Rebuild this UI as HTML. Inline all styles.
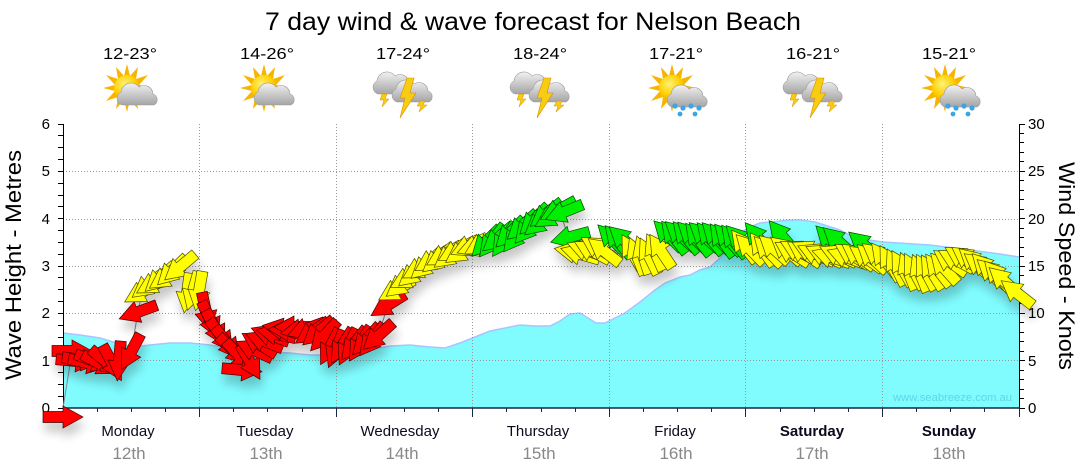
<!DOCTYPE html>
<html><head><meta charset="utf-8"><style>
html,body{margin:0;padding:0;background:#fff;}
svg{display:block;font-family:"Liberation Sans",sans-serif;}
</style></head><body>
<svg width="1080" height="475" viewBox="0 0 1080 475" xmlns="http://www.w3.org/2000/svg">
<defs>
<polygon id="a" points="-20,-5.5 0,-5.5 0,-11 20,0 0,11 0,5.5 -20,5.5"/>
<filter id="sh" x="-5%" y="-30%" width="110%" height="170%">
<feGaussianBlur in="SourceAlpha" stdDeviation="5"/>
<feOffset dx="2" dy="9" result="o"/>
<feComponentTransfer><feFuncA type="linear" slope="0.22"/></feComponentTransfer>
<feMerge><feMergeNode/><feMergeNode in="SourceGraphic"/></feMerge>
</filter>
<linearGradient id="cg" x1="0" y1="0" x2="0" y2="1"><stop offset="0" stop-color="#f2f2f2"/><stop offset="1" stop-color="#a4a4a4"/></linearGradient>
<radialGradient id="sg" cx="0.4" cy="0.35" r="0.7"><stop offset="0" stop-color="#fff27a"/><stop offset="0.6" stop-color="#ffd000"/><stop offset="1" stop-color="#f0a000"/></radialGradient>
<g id="sun">
<polygon fill="#f7b500" points="0,-24 3,-12 11,-21 9,-9 21,-13 12,-3 24,0 12,3 21,13 9,9 11,21 3,12 0,24 -3,12 -11,21 -9,9 -21,13 -12,3 -24,0 -12,-3 -21,-13 -9,-9 -11,-21 -3,-12"/>
<circle r="13" fill="url(#sg)"/>
</g>
<path id="cl" d="M5,25 A7,7 0 0 1 4,12 A10,10 0 0 1 22,7 A9,9 0 0 1 36,14 A6,6 0 0 1 37,25 Z" fill="url(#cg)" stroke="#9c9c9c" stroke-width="0.6"/>
<g id="pc"><use href="#sun" x="-4" y="88"/><use href="#cl" x="-14" y="80"/></g>
<g id="th">
<use href="#cl" x="-31" y="69"/>
<polygon points="-22,94 -17,94 -19,99 -15,99 -22,107 -20,100 -24,100" fill="#f8cc10" stroke="#d89000" stroke-width="0.5"/>
<use href="#cl" x="-12" y="77"/>
<polygon points="16,101 21,101 19,105 23,105 15,112 17,106 13,106" fill="#f8cc10" stroke="#d89000" stroke-width="0.5"/>
<polygon points="3,78 10,78 6,93 12,93 -4,118 1,98 -4,98" fill="#f8cc10" stroke="#d89000" stroke-width="0.6"/>
</g>
<g id="rn"><use href="#sun" x="-5" y="88"/><use href="#cl" x="-10" y="82"/>
<g fill="#3aa6e6"><circle cx="-2" cy="106" r="2.6"/><circle cx="6" cy="108" r="2.6"/><circle cx="14" cy="106" r="2.6"/><circle cx="22" cy="108" r="2.6"/><circle cx="3" cy="114" r="2.4"/><circle cx="18" cy="114" r="2.4"/></g></g>
</defs>

<!-- title -->
<text x="533" y="30" font-size="25" text-anchor="middle" textLength="536" lengthAdjust="spacingAndGlyphs" fill="#000">7 day wind &amp; wave forecast for Nelson Beach</text>

<!-- temps -->
<g font-size="16" text-anchor="middle" fill="#000">
<text x="130" y="59" textLength="54" lengthAdjust="spacingAndGlyphs">12-23°</text>
<text x="267" y="59" textLength="54" lengthAdjust="spacingAndGlyphs">14-26°</text>
<text x="403" y="59" textLength="54" lengthAdjust="spacingAndGlyphs">17-24°</text>
<text x="540" y="59" textLength="54" lengthAdjust="spacingAndGlyphs">18-24°</text>
<text x="676" y="59" textLength="54" lengthAdjust="spacingAndGlyphs">17-21°</text>
<text x="813" y="59" textLength="54" lengthAdjust="spacingAndGlyphs">16-21°</text>
<text x="949" y="59" textLength="54" lengthAdjust="spacingAndGlyphs">15-21°</text>
</g>

<!-- icons -->
<use href="#pc" x="131" y="0"/>
<use href="#pc" x="268" y="0"/>
<use href="#th" x="404" y="0"/>
<use href="#th" x="541" y="0"/>
<use href="#rn" x="677" y="0"/>
<use href="#th" x="814" y="0"/>
<use href="#rn" x="950" y="0"/>

<!-- wave area -->
<polygon fill="#80fcff" points="63,333 80,335 100,338 120,344 135,347 150,345 170,343 190,343 210,345 230,348 250,350 270,352 290,353 310,355 330,355 350,352 370,349 390,346 410,345 430,347 445,348 460,343 475,337 490,331 505,328 520,325 535,326 550,326 560,321 570,314 580,313 588,318 596,323 605,323 615,318 625,313 640,302 655,290 665,283 680,277 690,275 700,270 710,267 720,258 730,245 740,233 750,227 760,223 770,222 790,220 800,220 815,222 840,230 855,238 883,242 930,245 970,250 1000,254 1019,257 1019,408 63,408"/>
<polyline fill="none" stroke="#a8c4ff" stroke-width="1.5" points="63,333 80,335 100,338 120,344 135,347 150,345 170,343 190,343 210,345 230,348 250,350 270,352 290,353 310,355 330,355 350,352 370,349 390,346 410,345 430,347 445,348 460,343 475,337 490,331 505,328 520,325 535,326 550,326 560,321 570,314 580,313 588,318 596,323 605,323 615,318 625,313 640,302 655,290 665,283 680,277 690,275 700,270 710,267 720,258 730,245 740,233 750,227 760,223 770,222 790,220 800,220 815,222 840,230 855,238 883,242 930,245 970,250 1000,254 1019,257"/>

<!-- watermark -->
<text x="893" y="401" font-size="11" fill="#5ad8e6" textLength="119" lengthAdjust="spacingAndGlyphs">www.seabreeze.com.au</text>

<!-- gridlines -->
<g stroke="#999" stroke-width="1" stroke-dasharray="1 2" fill="none">
<path d="M63,360.5H1019M63,313.5H1019M63,266.5H1019M63,219.5H1019M63,171.5H1019"/>
<path d="M199.5,124V408M336.5,124V408M472.5,124V408M609.5,124V408M745.5,124V408M882.5,124V408"/>
</g>

<!-- axes -->
<g stroke="#000" stroke-width="1" fill="none">
<path d="M63.5,124V408M1019.5,124V408"/>
<path d="M58,408.5H63M58,396.5H63M58,384.5H63M58,372.5H63M58,360.5H63M58,349.5H63M58,337.5H63M58,325.5H63M58,313.5H63M58,301.5H63M58,289.5H63M58,277.5H63M58,266.5H63M58,254.5H63M58,242.5H63M58,230.5H63M58,218.5H63M58,206.5H63M58,195.5H63M58,183.5H63M58,171.5H63M58,159.5H63M58,147.5H63M58,135.5H63M58,124.5H63"/>
<path d="M1019,398.5h5M1019,389.5h5M1019,379.5h5M1019,370.5h5M1019,360.5h6M1019,351.5h5M1019,341.5h5M1019,332.5h5M1019,322.5h5M1019,313.5h6M1019,303.5h5M1019,294.5h5M1019,284.5h5M1019,275.5h5M1019,266.5h6M1019,256.5h5M1019,247.5h5M1019,237.5h5M1019,228.5h5M1019,218.5h6M1019,209.5h5M1019,199.5h5M1019,190.5h5M1019,180.5h5M1019,171.5h6M1019,161.5h5M1019,152.5h5M1019,142.5h5M1019,133.5h5M1019,124.5h6M1019,408.5h6"/>
</g>
<g stroke="#13284a" fill="none">
<path d="M63,408H1020" stroke-width="1.6"/>
<path stroke-width="1" d="M63.5,408V417M199.5,408V417M336.5,408V417M472.5,408V417M609.5,408V417M745.5,408V417M882.5,408V417M1019.5,408V417M97.5,408V412M131.5,408V412M165.5,408V412M233.5,408V412M267.5,408V412M302.5,408V412M370.5,408V412M404.5,408V412M438.5,408V412M506.5,408V412M541.5,408V412M575.5,408V412M643.5,408V412M677.5,408V412M711.5,408V412M780.5,408V412M814.5,408V412M848.5,408V412M916.5,408V412M950.5,408V412M984.5,408V412"/>
</g>

<!-- axis labels -->
<g font-size="15" fill="#000" text-anchor="end">
<text x="50" y="129">6</text><text x="50" y="176">5</text><text x="50" y="224">4</text><text x="50" y="271">3</text><text x="50" y="318">2</text><text x="50" y="366">1</text><text x="50" y="413">0</text>
</g>
<g font-size="15" fill="#000">
<text x="1028" y="129">30</text><text x="1028" y="176">25</text><text x="1028" y="224">20</text><text x="1028" y="271">15</text><text x="1028" y="318">10</text><text x="1028" y="366">5</text><text x="1028" y="413">0</text>
</g>
<text transform="translate(21,265) rotate(-90)" font-size="22" text-anchor="middle" textLength="230" lengthAdjust="spacingAndGlyphs" fill="#000">Wave Height - Metres</text>
<text transform="translate(1059,266) rotate(90)" font-size="22" text-anchor="middle" textLength="208" lengthAdjust="spacingAndGlyphs" fill="#000">Wind Speed - Knots</text>

<!-- day labels -->
<g font-size="15" fill="#0a0a1e" text-anchor="middle">
<text x="128" y="436">Monday</text>
<text x="265" y="436">Tuesday</text>
<text x="400" y="436">Wednesday</text>
<text x="538" y="436">Thursday</text>
<text x="675" y="436">Friday</text>
<text x="812" y="436" font-weight="bold">Saturday</text>
<text x="949" y="436" font-weight="bold">Sunday</text>
</g>
<g font-size="17" fill="#888" text-anchor="middle">
<text x="129" y="459">12th</text>
<text x="266" y="459">13th</text>
<text x="402" y="459">14th</text>
<text x="539" y="459">15th</text>
<text x="676" y="459">16th</text>
<text x="812" y="459">17th</text>
<text x="949" y="459">18th</text>
</g>

<!-- wind line -->
<polyline fill="none" stroke="#888" stroke-width="1" points="63,408 72,352 100,363 131,352 138,312 142,292 180,267 193,292 206,312 250,362 282,330 324,335 348,346 378,336 388,305 420,268 476,244 530,222 560,212 568,236 604,250 630,252 700,237 760,248 830,256 880,258 940,270 960,258 1017,293"/>

<!-- wind arrows -->
<g filter="url(#sh)" stroke-width="0.7">
<g fill="#ff0000" stroke="#4a0000">
<use href="#a" transform="translate(63 417)rotate(0)"/>
<use href="#a" transform="translate(72 351)rotate(0)"/>
<use href="#a" transform="translate(76 361)rotate(5)"/>
<use href="#a" transform="translate(82 360)rotate(8)"/>
<use href="#a" transform="translate(88 363)rotate(12)"/>
<use href="#a" transform="translate(94 361)rotate(20)"/>
<use href="#a" transform="translate(100 364)rotate(28)"/>
<use href="#a" transform="translate(106 362)rotate(40)"/>
<use href="#a" transform="translate(112 363)rotate(62)"/>
<use href="#a" transform="translate(119 361)rotate(95)"/>
<use href="#a" transform="translate(131 352)rotate(118)"/>
<use href="#a" transform="translate(138 312)rotate(160)"/>
</g>
<g fill="#ffff00" stroke="#4a4a00">
<use href="#a" transform="translate(142 292)rotate(150)"/>
<use href="#a" transform="translate(148 285)rotate(142)"/>
<use href="#a" transform="translate(154 283)rotate(150)"/>
<use href="#a" transform="translate(160 278)rotate(138)"/>
<use href="#a" transform="translate(166 277)rotate(146)"/>
<use href="#a" transform="translate(172 271)rotate(136)"/>
<use href="#a" transform="translate(180 267)rotate(140)"/>
<use href="#a" transform="translate(187 293)rotate(98)"/>
<use href="#a" transform="translate(193 291)rotate(106)"/>
<use href="#a" transform="translate(199 291)rotate(100)"/>
</g>
<g fill="#ff0000" stroke="#4a0000">
<use href="#a" transform="translate(206 312)rotate(78)"/>
<use href="#a" transform="translate(210 320)rotate(66)"/>
<use href="#a" transform="translate(215 328)rotate(62)"/>
<use href="#a" transform="translate(221 336)rotate(54)"/>
<use href="#a" transform="translate(227 343)rotate(52)"/>
<use href="#a" transform="translate(233 350)rotate(44)"/>
<use href="#a" transform="translate(239 356)rotate(48)"/>
<use href="#a" transform="translate(242 370)rotate(5)"/>
<use href="#a" transform="translate(250 362)rotate(60)"/>
<use href="#a" transform="translate(254 350)rotate(205)"/>
<use href="#a" transform="translate(259 344)rotate(212)"/>
<use href="#a" transform="translate(264 341)rotate(202)"/>
<use href="#a" transform="translate(270 335)rotate(200)"/>
<use href="#a" transform="translate(276 334)rotate(192)"/>
<use href="#a" transform="translate(282 329)rotate(190)"/>
<use href="#a" transform="translate(288 330)rotate(182)"/>
<use href="#a" transform="translate(294 327)rotate(180)"/>
<use href="#a" transform="translate(300 330)rotate(170)"/>
<use href="#a" transform="translate(306 329)rotate(160)"/>
<use href="#a" transform="translate(312 332)rotate(146)"/>
<use href="#a" transform="translate(318 332)rotate(140)"/>
<use href="#a" transform="translate(324 336)rotate(132)"/>
<use href="#a" transform="translate(330 347)rotate(118)"/>
<use href="#a" transform="translate(336 349)rotate(112)"/>
<use href="#a" transform="translate(342 346)rotate(122)"/>
<use href="#a" transform="translate(348 347)rotate(116)"/>
<use href="#a" transform="translate(354 344)rotate(128)"/>
<use href="#a" transform="translate(360 344)rotate(122)"/>
<use href="#a" transform="translate(366 340)rotate(132)"/>
<use href="#a" transform="translate(372 340)rotate(128)"/>
<use href="#a" transform="translate(378 336)rotate(138)"/>
<use href="#a" transform="translate(388 305)rotate(148)"/>
</g>
<g fill="#ffff00" stroke="#4a4a00">
<use href="#a" transform="translate(396 290)rotate(150)"/>
<use href="#a" transform="translate(402 284)rotate(142)"/>
<use href="#a" transform="translate(408 278)rotate(152)"/>
<use href="#a" transform="translate(414 273)rotate(140)"/>
<use href="#a" transform="translate(420 268)rotate(150)"/>
<use href="#a" transform="translate(426 265)rotate(138)"/>
<use href="#a" transform="translate(432 260)rotate(148)"/>
<use href="#a" transform="translate(438 259)rotate(140)"/>
<use href="#a" transform="translate(444 255)rotate(150)"/>
<use href="#a" transform="translate(450 255)rotate(142)"/>
<use href="#a" transform="translate(456 251)rotate(152)"/>
<use href="#a" transform="translate(462 251)rotate(145)"/>
<use href="#a" transform="translate(469 246)rotate(155)"/>
<use href="#a" transform="translate(476 246)rotate(160)"/>
<use href="#a" transform="translate(482 244)rotate(150)"/>
</g>
<g fill="#00ee00" stroke="#004a00">
<use href="#a" transform="translate(486 242)rotate(135)"/>
<use href="#a" transform="translate(492 241)rotate(128)"/>
<use href="#a" transform="translate(498 238)rotate(140)"/>
<use href="#a" transform="translate(504 240)rotate(125)"/>
<use href="#a" transform="translate(510 233)rotate(135)"/>
<use href="#a" transform="translate(516 236)rotate(128)"/>
<use href="#a" transform="translate(522 226)rotate(138)"/>
<use href="#a" transform="translate(528 228)rotate(130)"/>
<use href="#a" transform="translate(534 220)rotate(135)"/>
<use href="#a" transform="translate(540 222)rotate(140)"/>
<use href="#a" transform="translate(546 214)rotate(142)"/>
<use href="#a" transform="translate(552 216)rotate(148)"/>
<use href="#a" transform="translate(558 210)rotate(152)"/>
<use href="#a" transform="translate(564 212)rotate(158)"/>
<use href="#a" transform="translate(570 237)rotate(165)"/>
</g>
<g fill="#ffff00" stroke="#4a4a00">
<use href="#a" transform="translate(574 252)rotate(190)"/>
<use href="#a" transform="translate(580 254)rotate(196)"/>
<use href="#a" transform="translate(586 250)rotate(200)"/>
<use href="#a" transform="translate(592 251)rotate(208)"/>
<use href="#a" transform="translate(598 248)rotate(212)"/>
<use href="#a" transform="translate(604 251)rotate(218)"/>
</g>
<g fill="#00ee00" stroke="#004a00">
<use href="#a" transform="translate(612 239)rotate(225)"/>
<use href="#a" transform="translate(618 241)rotate(230)"/>
<use href="#a" transform="translate(624 240)rotate(222)"/>
</g>
<g fill="#ffff00" stroke="#4a4a00">
<use href="#a" transform="translate(632 252)rotate(240)"/>
<use href="#a" transform="translate(637 256)rotate(248)"/>
<use href="#a" transform="translate(643 255)rotate(252)"/>
<use href="#a" transform="translate(649 256)rotate(244)"/>
<use href="#a" transform="translate(655 252)rotate(246)"/>
<use href="#a" transform="translate(661 251)rotate(236)"/>
</g>
<g fill="#00ee00" stroke="#004a00">
<use href="#a" transform="translate(668 235)rotate(225)"/>
<use href="#a" transform="translate(674 237)rotate(232)"/>
<use href="#a" transform="translate(680 235)rotate(222)"/>
<use href="#a" transform="translate(686 237)rotate(230)"/>
<use href="#a" transform="translate(692 236)rotate(224)"/>
<use href="#a" transform="translate(698 239)rotate(232)"/>
<use href="#a" transform="translate(704 236)rotate(222)"/>
<use href="#a" transform="translate(710 238)rotate(230)"/>
<use href="#a" transform="translate(716 237)rotate(226)"/>
<use href="#a" transform="translate(722 240)rotate(234)"/>
<use href="#a" transform="translate(728 239)rotate(228)"/>
<use href="#a" transform="translate(734 241)rotate(232)"/>
<use href="#a" transform="translate(740 240)rotate(226)"/>
</g>
<g fill="#ffff00" stroke="#4a4a00">
<use href="#a" transform="translate(744 246)rotate(232)"/>
<use href="#a" transform="translate(750 249)rotate(226)"/>
</g>
<use href="#a" fill="#00ee00" stroke="#004a00" transform="translate(758 238)rotate(230)"/>
<g fill="#ffff00" stroke="#4a4a00">
<use href="#a" transform="translate(762 249)rotate(234)"/>
<use href="#a" transform="translate(768 251)rotate(226)"/>
<use href="#a" transform="translate(774 249)rotate(222)"/>
</g>
<use href="#a" fill="#00ee00" stroke="#004a00" transform="translate(782 236)rotate(230)"/>
<g fill="#ffff00" stroke="#4a4a00">
<use href="#a" transform="translate(786 250)rotate(220)"/>
<use href="#a" transform="translate(792 253)rotate(212)"/>
<use href="#a" transform="translate(798 251)rotate(208)"/>
<use href="#a" transform="translate(804 253)rotate(214)"/>
<use href="#a" transform="translate(810 251)rotate(206)"/>
<use href="#a" transform="translate(816 254)rotate(204)"/>
</g>
<g fill="#00ee00" stroke="#004a00">
<use href="#a" transform="translate(830 240)rotate(225)"/>
<use href="#a" transform="translate(838 241)rotate(222)"/>
</g>
<g fill="#ffff00" stroke="#4a4a00">
<use href="#a" transform="translate(824 255)rotate(205)"/>
<use href="#a" transform="translate(831 257)rotate(198)"/>
<use href="#a" transform="translate(838 255)rotate(204)"/>
<use href="#a" transform="translate(846 257)rotate(200)"/>
<use href="#a" transform="translate(852 255)rotate(212)"/>
<use href="#a" transform="translate(858 256)rotate(216)"/>
</g>
<use href="#a" fill="#00ee00" stroke="#004a00" transform="translate(864 245)rotate(220)"/>
<g fill="#ffff00" stroke="#4a4a00">
<use href="#a" transform="translate(866 258)rotate(215)"/>
<use href="#a" transform="translate(872 258)rotate(222)"/>
<use href="#a" transform="translate(878 256)rotate(218)"/>
<use href="#a" transform="translate(884 259)rotate(232)"/>
<use href="#a" transform="translate(890 263)rotate(240)"/>
<use href="#a" transform="translate(896 267)rotate(244)"/>
<use href="#a" transform="translate(902 268)rotate(240)"/>
<use href="#a" transform="translate(908 271)rotate(248)"/>
<use href="#a" transform="translate(914 271)rotate(242)"/>
<use href="#a" transform="translate(920 273)rotate(248)"/>
<use href="#a" transform="translate(926 272)rotate(242)"/>
<use href="#a" transform="translate(932 272)rotate(238)"/>
<use href="#a" transform="translate(938 270)rotate(232)"/>
<use href="#a" transform="translate(944 268)rotate(228)"/>
<use href="#a" transform="translate(950 262)rotate(215)"/>
<use href="#a" transform="translate(956 260)rotate(208)"/>
<use href="#a" transform="translate(962 258)rotate(212)"/>
<use href="#a" transform="translate(968 259)rotate(216)"/>
<use href="#a" transform="translate(974 262)rotate(222)"/>
<use href="#a" transform="translate(980 266)rotate(218)"/>
<use href="#a" transform="translate(986 268)rotate(226)"/>
<use href="#a" transform="translate(992 273)rotate(222)"/>
<use href="#a" transform="translate(998 276)rotate(228)"/>
<use href="#a" transform="translate(1004 281)rotate(222)"/>
<use href="#a" transform="translate(1017 293)rotate(218)"/>
</g>
</g>
</svg>
</body></html>
